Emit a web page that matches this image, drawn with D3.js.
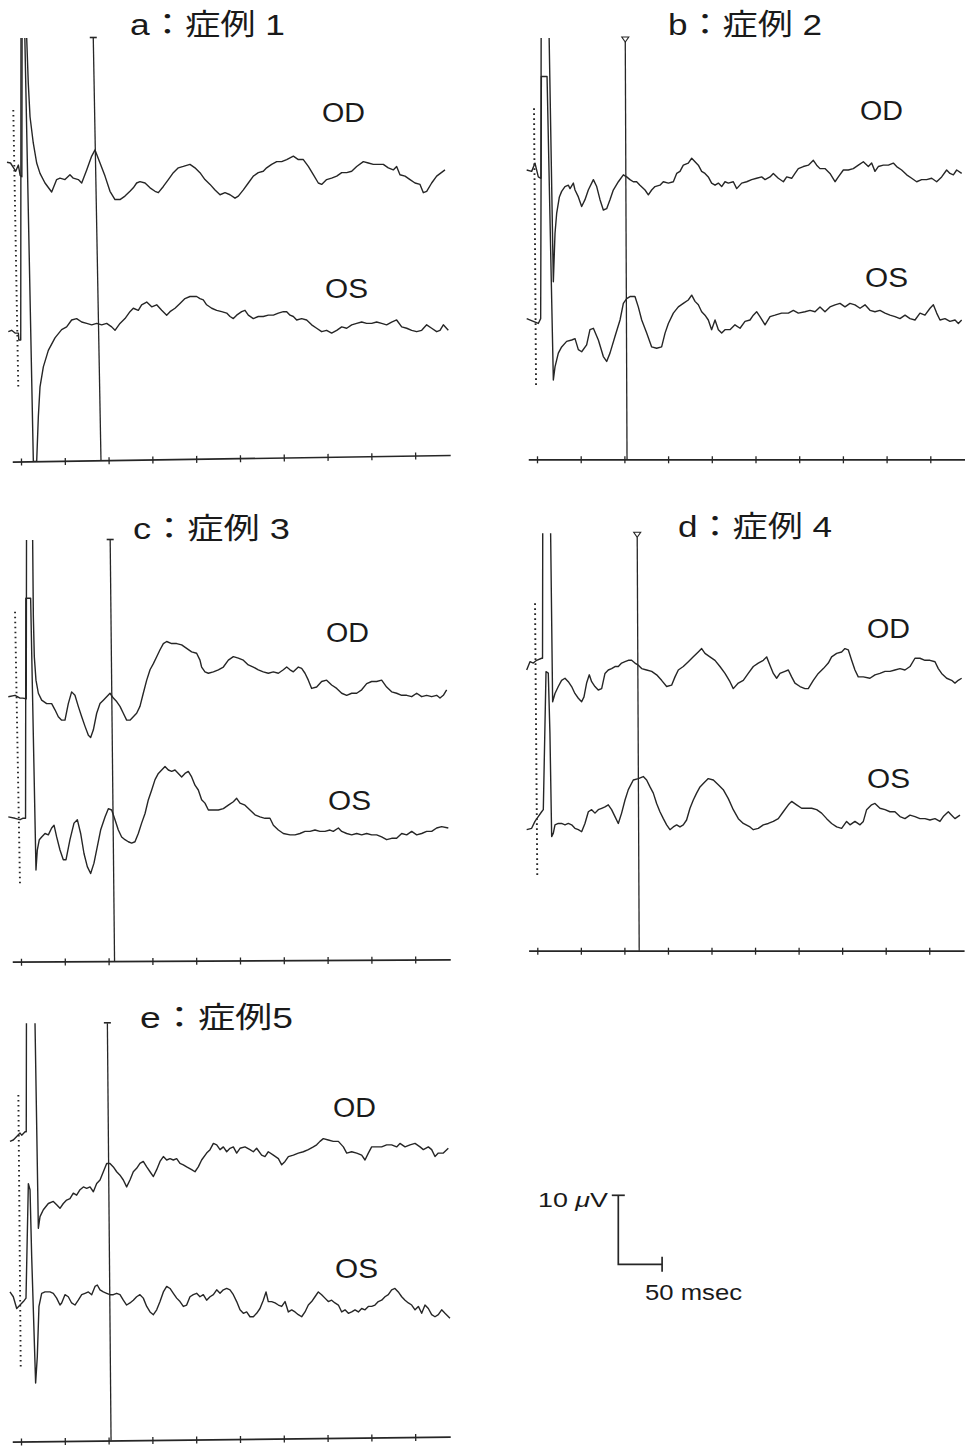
<!DOCTYPE html>
<html>
<head>
<meta charset="utf-8">
<script src="https://cdn.jsdelivr.net/npm/d3@7/dist/d3.min.js"></script>
<style>
  body { margin: 0; background: #fff; }
  svg { display: block; }
</style>
</head>
<body>
<div id="main"></div>
<script>
// ---- data: time in ms, amplitude in µV (relative to each trace's pre-stimulus level) ----
const panelIds = ["a", "b", "c", "d", "e"];
const titles = ["a：症例 1", "b：症例 2", "c：症例 3", "d：症例 4", "e：症例5"];
const eyeLabels = ["OD", "OS"];
const tickTimes = [0, 50, 100, 150, 200, 250, 300, 350, 400, 450];
const axisSpan = [-10, 490];
// cursor (P100 marker) time at top and at bottom of the line
const cursorTimes = [[82.5, 91.3], [101, 103], [101.8, 106.8], [114.7, 117], [98.6, 102.8]];
// dotted trigger line, time at top and bottom
const triggerTimes = [[-8.8, -3.1], [-3.4, -1.1], [-6.8, -1.1], [-2.6, 0], [-3, -0.3]];
const scaleBar = [10, 50]; // µV, msec

const odA = [[-16,0.1],[-12,0],[-9,-0.6],[-6,-1.2],[-3,-0.3],[-1,-1.8],[1,-2],[1.5,40],[5,40],[6.5,18.1],[8.3,11.6],[10.3,6.7],[14,2.9],[17.9,0],[21.7,-1.5],[27.4,-2.9],[35,-4.2],[40.7,-2.4],[44.5,-2.2],[50.2,-2.4],[55.9,-1.7],[59.7,-2.2],[65.4,-2.4],[69.3,-2.9],[75,-1],[80.7,1],[84.5,1.9],[90.2,0],[95.9,-1.9],[101.6,-4.1],[107.3,-5.3],[113,-5.3],[118.7,-4.8],[124.4,-4.1],[128.2,-3.6],[132,-2.9],[135.8,-2.7],[141.6,-2.9],[147.3,-3.6],[153,-4.1],[156.8,-4.3],[162.5,-3.4],[168.2,-2.4],[173.9,-1.4],[179.6,-0.7],[185.3,-0.5],[192.9,-0.2],[198.6,-0.7],[204.3,-1.4],[210,-2.4],[215.8,-3.1],[221.5,-3.9],[227.2,-4.6],[232.9,-4.3],[238.6,-4.6],[244.3,-5.1],[248.1,-4.8],[253.8,-3.9],[259.5,-2.9],[265.2,-1.9],[270.9,-1.4],[276.6,-1.2],[280.4,-0.7],[286.1,-0.2],[291.9,0.2],[297.6,0.2],[303.3,0.5],[310.9,1],[316.6,0.5],[322.3,0.5],[328,-0.5],[333.7,-1.7],[339.4,-2.9],[343.2,-3.1],[348.9,-2.4],[354.6,-2.2],[360.4,-1.9],[366.1,-1.4],[371.8,-1.4],[377.5,-1.2],[383.2,-0.5],[390.8,0.2],[396.5,0],[402.2,-0.2],[407.9,-0.2],[413.6,-0.2],[419.3,-0.7],[425,-1],[428.8,-0.5],[432.6,-1.7],[438.4,-1.9],[444.1,-2.4],[449.8,-2.9],[455.5,-3.1],[459.3,-4.3],[463.1,-4.1],[468.8,-2.9],[474.5,-1.9],[484,-1]];
const osA = [[-14.5,0],[-10.7,0.2],[-6.8,-0.2],[-3,-0.2],[-2.5,-1.2],[-0.3,-1.2],[0,45],[4,45],[14.1,-18.8],[17.9,-18.8],[19.8,-12.3],[21.7,-8],[25.5,-5.1],[31.2,-2.7],[38.8,-0.9],[46.4,0.3],[52.1,0.7],[57.8,1.7],[63.5,1.9],[69.3,1.4],[75,1.2],[80.7,1],[86.4,1.2],[92.1,1],[97.8,1.2],[103.5,0.7],[107.3,0.2],[113,1.2],[118.7,1.9],[124.4,2.9],[128.2,3.4],[133.9,3.1],[137.7,3.9],[143.5,4.3],[149.2,3.6],[154.9,3.9],[160.6,3.1],[166.3,2.4],[170.1,2.9],[175.8,3.4],[181.5,4.1],[187.2,4.8],[192.9,5.1],[200.5,5.1],[204.3,4.8],[208.1,4.6],[211.9,3.9],[217.7,3.4],[223.4,3.1],[229.1,2.9],[234.8,2.7],[238.6,2.2],[242.4,1.9],[246.2,2.4],[251.9,2.9],[255.7,3.1],[259.5,2.4],[265.2,1.9],[270.9,2.2],[276.6,2.2],[282.3,2.4],[288.1,2.4],[293.8,2.7],[299.5,2.9],[303.3,2.9],[307.1,2.4],[310.9,2.2],[314.7,1.7],[320.4,1.9],[326.1,1.7],[331.8,1],[337.5,0.5],[343.2,0],[348.9,0.2],[354.6,-0.2],[360.4,0.2],[366.1,0.7],[371.8,0.5],[377.5,1],[383.2,1.2],[388.9,1.4],[394.6,1.2],[400.3,1.2],[406,1.4],[411.7,1.2],[417.4,1],[423.1,1.4],[428.8,1.7],[434.6,0.7],[440.3,0.5],[446,0.2],[451.7,0],[457.4,0.2],[463.1,1],[468.8,0.5],[474.5,0],[478.3,0.2],[482.1,1],[487.8,0.2]];

const odB = [[-11.8,0],[-6.1,-0.2],[-2.3,1],[1.5,-1],[4.5,-1.2],[5,40],[12,40],[13.5,22],[18.7,-16.2],[20.6,-9.2],[22.5,-6.3],[25.6,-3.9],[28.2,-3.1],[32,-2.4],[35.9,-2.2],[37.8,-2.7],[41.6,-1.9],[43.5,-2.9],[47.3,-3.9],[51.1,-5.3],[54.9,-4.3],[58.7,-2.9],[64.5,-1.4],[68.3,-2.4],[72.1,-4.3],[75.9,-5.8],[79.7,-5.6],[83.5,-4.3],[87.3,-2.9],[93.1,-1.7],[98.8,-0.7],[102.6,-1],[106.4,-1.4],[110.2,-1.7],[114,-1.7],[117.8,-2.2],[123.6,-2.9],[127.4,-3.6],[131.2,-2.9],[135,-2.4],[140.7,-2.2],[144.5,-1.7],[150.3,-1.9],[156,-1.7],[159.8,-0.5],[163.6,-0.2],[167.4,0.7],[173.1,1],[177,1.7],[180.8,1.2],[184.6,0.7],[188.4,-0.2],[192.2,-0.5],[196,-1],[199.8,-1.9],[203.7,-2.2],[207.5,-1.9],[211.3,-2.4],[215.1,-1.7],[218.9,-1.9],[224.6,-1.7],[228.5,-2.7],[234.2,-1.9],[239.9,-1.7],[245.6,-1.4],[251.3,-1.2],[257.1,-1],[260.9,-1.4],[266.6,-1],[270.4,-0.5],[276.1,-1.2],[281.9,-1.7],[285.7,-1],[291.4,-1.2],[295.2,-0.5],[299,0.2],[304.7,0.5],[310.5,0.7],[316.2,1.4],[320,0.7],[323.8,0.2],[329.5,0.2],[335.2,-0.5],[341,-1.7],[344.8,-1],[350.5,0],[356.2,0],[361.9,0.2],[367.7,0.7],[373.4,1.2],[379.1,0.5],[382.9,1],[386.7,-0.2],[390.5,0.5],[396.3,0.7],[402,0.7],[407.7,1],[411.5,0.5],[417.2,0],[423,-0.7],[428.7,-1.2],[434.4,-1.7],[440.1,-1.4],[445.8,-1.4],[451.6,-1.2],[457.3,-1.7],[463,-1],[468.7,0],[472.5,-0.5],[476.4,-0.7],[480.2,0],[485.9,-0.5]];
const osB = [[-11.8,0.2],[-4.2,-0.2],[1.5,-0.5],[4.2,0.2],[5,35.3],[11.5,35.3],[18.7,-8.7],[20.6,-6.8],[24.4,-4.8],[28.2,-3.9],[33.9,-3.1],[39.7,-2.9],[43.5,-2.7],[47.3,-4.3],[51.1,-4.6],[56.8,-3.6],[60.6,-1.4],[64.5,-1.2],[70.2,-2.9],[75.9,-5.3],[79.7,-6],[83.5,-4.8],[89.2,-2.4],[95,0],[98.8,2.4],[102.6,3.1],[106.4,3.4],[112.1,3.4],[115.9,1.9],[119.8,0],[125.5,-1.9],[131.2,-3.9],[136.9,-4.1],[142.6,-3.9],[146.5,-1.9],[150.3,-0.5],[156,1],[161.7,1.9],[167.4,2.4],[173.1,2.9],[177,3.6],[180.8,2.7],[184.6,2.2],[188.4,1.2],[192.2,0.7],[196,0],[199.8,-1.4],[203.7,0],[207.5,-1.4],[211.3,-1.9],[215.1,-1.4],[220.8,-1.4],[226.5,-0.7],[232.3,-1.2],[238,-0.2],[243.7,0],[247.5,0.7],[251.3,1.2],[255.1,0.5],[260.9,-0.7],[266.6,0.5],[272.3,0.7],[279.9,1],[287.6,1],[293.3,1.4],[299,1],[306.6,1.2],[312.4,1.4],[318.1,1.2],[323.8,1.9],[329.5,1.2],[335.2,1.9],[341,2.2],[346.7,2.4],[352.4,1.9],[358.1,2.4],[363.8,2.2],[369.6,1.7],[375.3,2.2],[381,1.4],[386.7,1.2],[392.4,1.4],[398.2,1],[403.9,0.7],[409.6,0.5],[415.3,0.2],[421.1,0.7],[426.8,0.2],[432.5,0],[438.2,1],[443.9,0.7],[449.7,1.7],[453.5,2.2],[457.3,1],[461.1,0],[466.8,0.2],[472.5,-0.2],[478.3,0],[482.1,-0.5],[485.9,0]];

const odC = [[-14.5,0],[-6.8,0.2],[-1.1,-0.2],[1.9,-0.2],[6,-0.3],[6.5,40],[12.5,40],[13.3,22.7],[14.1,11.6],[15.2,5.8],[17.1,2.4],[19.8,0.5],[23.6,-0.5],[29.3,-1],[35,-1],[38.8,-1.9],[42.6,-2.9],[46.4,-3.4],[50.2,-3.4],[54,-1],[57.8,0.7],[61.6,0.2],[65.4,-1.4],[69.3,-2.9],[73.1,-4.3],[76.9,-5.6],[79.5,-5.9],[82.6,-4.8],[86.4,-2.4],[90.2,-1],[94,-0.5],[97.8,0],[101.6,0.5],[105.4,-0.2],[109.2,-0.7],[113,-1.4],[116.8,-2.4],[120.6,-3.4],[124.4,-3.4],[128.2,-2.9],[132,-2.4],[135.8,-1.4],[139.6,0.5],[143.5,2.4],[147.3,3.9],[151.1,4.8],[154.9,5.8],[158.7,6.8],[162.5,7.7],[166.3,8],[172,7.7],[177.7,7.7],[183.4,7.5],[189.1,7],[194.8,6.5],[200.5,6.3],[204.3,5.3],[206.2,4.3],[210,3.6],[213.9,3.4],[219.6,3.6],[225.3,3.9],[231,4.3],[236.7,5.3],[242.4,5.8],[248.1,5.6],[253.8,5.3],[259.5,4.6],[265.2,4.3],[270.9,3.9],[276.6,3.6],[282.3,3.4],[288.1,3.6],[293.8,3.4],[299.5,3.9],[303.3,4.3],[307.1,3.9],[310.9,3.6],[316.6,4.3],[320.4,4.1],[324.2,3.4],[328,2.4],[331.8,1.2],[337.5,1.4],[343.2,2.2],[348.9,2.4],[354.6,1.7],[360.4,1.2],[366.1,0.5],[371.8,0.2],[377.5,0.5],[383.2,0.5],[388.9,1],[394.6,1.9],[400.3,2.2],[406,2.2],[411.7,2.4],[417.4,1.4],[423.1,0.7],[428.8,0.5],[434.6,0.2],[440.3,0.2],[446,0],[451.7,0.5],[457.4,0],[463.1,0.2],[468.8,0],[474.5,0.2],[478.3,-0.2],[482.1,0.2],[485.9,1]];
const osC = [[-14.5,0.2],[-6.8,0],[-1.1,-0.2],[1.9,0],[5.2,0],[5.5,31.9],[11,31.9],[17.1,-7.5],[18.6,-4.6],[20.9,-3.1],[23.6,-2.7],[27.4,-2.2],[31.2,-2.4],[35,-1.4],[37.7,-1],[40.7,-2.7],[44.5,-4.6],[48.3,-6],[51.4,-6],[55.9,-3.1],[60.5,-0.7],[64.3,-0.2],[68.1,-2.2],[71.9,-5.1],[75.7,-7],[79.5,-8],[83.3,-6.5],[87.1,-4.1],[90.9,-1.7],[95.9,0.2],[99.7,1.4],[103.5,1.2],[107.3,-0.2],[111.1,-1.7],[114.9,-2.7],[118.7,-3.1],[122.5,-3.4],[126.3,-3.6],[130.1,-3.4],[133.9,-2.2],[137.7,-0.7],[141.6,0.7],[145.4,2.7],[149.2,4.1],[153,5.6],[156.8,6.5],[160.6,7],[164.4,7.5],[168.2,7],[172,6.8],[175.8,7],[179.6,6.5],[183.4,6],[187.2,6.5],[191,6.8],[194.8,6],[198.6,4.8],[202.4,4.1],[206.2,2.7],[210,2.2],[213.9,1.2],[219.6,1.2],[225.3,1.2],[231,1.4],[236.7,1.9],[242.4,2.4],[246.2,2.9],[250,2.2],[255.7,1.9],[261.4,1.2],[267.1,0.5],[272.8,0.2],[278.5,0],[284.2,0],[288.1,-1],[293.8,-1.7],[299.5,-2.2],[307.1,-2.4],[312.8,-2.4],[318.5,-2.2],[324.2,-1.9],[329.9,-1.9],[335.6,-1.7],[341.3,-1.9],[347,-1.9],[352.7,-1.7],[356.5,-1.9],[362.3,-1.4],[366.1,-1.9],[371.8,-2.2],[377.5,-2.4],[383.2,-2.2],[388.9,-2.4],[394.6,-2.2],[400.3,-2.4],[406,-2.4],[411.7,-2.7],[417.4,-3.1],[423.1,-2.9],[428.8,-2.9],[434.6,-2.2],[440.3,-2.4],[446,-1.9],[451.7,-2.4],[457.4,-2.2],[463.1,-1.9],[468.8,-1.9],[474.5,-1.4],[480.2,-1.2],[487.8,-1.4]];

const odD = [[-12.2,-1.2],[-8.4,0],[-4.6,-0.2],[-0.8,0.2],[5,0.5],[6,0.5],[6.5,40],[14,40],[15.3,18.6],[17.6,-5.8],[20.3,-4.6],[24.1,-3.6],[27.9,-2.7],[31.8,-2.4],[35.6,-2.9],[39.4,-3.6],[43.2,-4.6],[47.1,-5.3],[50.9,-5.8],[53.6,-5.1],[56.6,-3.1],[59.7,-1.9],[62.4,-2.9],[66.2,-3.6],[70,-4.1],[73.9,-3.9],[77.7,-1.7],[81.5,-1.2],[85.3,-1],[89.2,-0.7],[93,-0.7],[96.8,-0.2],[100.7,0],[104.5,0.2],[108.3,0.2],[112.1,-0.2],[116,-0.5],[119.8,-1],[125.5,-1.2],[131.3,-1.4],[137,-1.9],[142.7,-2.7],[148.5,-3.6],[154.2,-3.4],[158.1,-2.2],[161.9,-1.2],[167.6,-0.7],[173.4,0],[179.1,0.7],[184.8,1.4],[188.7,1.9],[192.5,1.2],[198.2,0.7],[204,0.2],[209.7,-0.7],[215.5,-1.7],[221.2,-2.9],[225,-3.9],[230.8,-3.1],[236.5,-2.7],[242.2,-1.7],[248,-0.7],[253.7,-0.2],[259.5,0.2],[263.3,0.7],[267.1,-0.5],[271,-1.7],[274.8,-2.4],[278.6,-1.7],[284.3,-1.4],[288.2,-1.2],[292,-2.2],[295.8,-3.1],[301.6,-3.6],[307.3,-3.9],[311.1,-3.9],[316.9,-2.7],[322.6,-1.7],[328.4,-1],[334.1,-0.2],[337.9,0.7],[343.7,1.2],[349.4,1.4],[353.2,1.9],[357.1,1.7],[360.9,0.2],[364.7,-1.2],[368.5,-2.2],[374.3,-2.2],[381.9,-2.4],[387.7,-1.9],[393.4,-1.7],[399.2,-1.4],[404.9,-1.4],[410.6,-1.2],[416.4,-1],[422.1,-1.2],[427.9,-0.7],[433.6,0.5],[439.3,0.5],[445.1,0.2],[450.8,0.2],[456.6,0],[460.4,-1],[464.2,-1.7],[470,-2.4],[475.7,-2.7],[479.5,-3.1],[483.3,-2.7],[487.2,-2.4]];
const osD = [[-12.2,-0.2],[-6.5,0],[-2.7,1],[1.1,1.7],[5,2.4],[6.9,2.7],[10,22.7],[12.6,22.5],[14.5,13.8],[16.5,-1.2],[18.4,-0.7],[20.3,0.5],[24.1,0.7],[27.9,0.7],[31.8,0.5],[35.6,0.7],[39.4,0.5],[43.2,0],[47.1,-0.2],[50.9,-0.5],[54.7,0.7],[58.6,2.4],[62.4,2.7],[66.2,2.2],[70,2.7],[73.9,2.9],[77.7,3.1],[81.5,3.4],[85.3,2.7],[89.2,1.7],[93,0.7],[96.8,2.2],[100.7,4.1],[104.5,5.6],[110.2,7],[116,7.2],[121.7,7.5],[125.5,7],[129.4,6],[133.2,5.1],[137,3.6],[140.8,2.4],[144.7,1.4],[148.5,0.5],[152.3,-0.2],[156.1,0.2],[160,0.5],[163.8,0.2],[167.6,0.5],[171.4,1.2],[175.3,2.9],[179.1,4.1],[182.9,5.1],[186.8,6],[190.6,6.5],[196.3,7.2],[202.1,7],[207.8,6.3],[213.5,5.6],[219.3,4.3],[225,2.7],[230.8,1.4],[236.5,0.7],[244.2,0.2],[248,-0.2],[253.7,0],[259.5,0.5],[265.2,0.7],[271,1],[276.7,1.4],[282.4,2.4],[288.2,3.4],[292,3.9],[297.7,3.4],[303.5,2.9],[309.2,2.9],[315,2.9],[320.7,2.7],[326.4,2.2],[332.2,1.4],[337.9,0.7],[343.7,0.2],[349.4,0],[355.1,1],[359,0.5],[364.7,1],[370.5,0.5],[374.3,1],[378.1,2.7],[383.8,3.4],[387.7,3.6],[393.4,2.9],[399.2,2.7],[404.9,2.4],[410.6,2.4],[416.4,1.7],[422.1,1.4],[427.9,1.9],[433.6,1.7],[439.3,1.4],[445.1,1.4],[450.8,1.2],[456.6,1.4],[462.3,1],[466.1,1.7],[471.9,2.4],[475.7,1.9],[479.5,1.4],[485.3,1.9]];

const odE = [[-12.6,-0.2],[-8.8,0],[-4.9,0.5],[-1.1,1],[0.8,0.7],[4.6,1.2],[6,1.2],[6.5,40],[14,40],[16,16.9],[19.8,-12.8],[21.7,-11.1],[25.5,-10.1],[31.2,-9.2],[36.9,-8.9],[40.7,-9.4],[44.5,-9.9],[48.3,-9.2],[52.1,-8.7],[55.9,-8.5],[59.7,-7.7],[63.5,-8],[67.4,-7.2],[71.2,-6.8],[75,-7],[78.8,-6.8],[82.6,-7.5],[86.4,-6.3],[90.2,-5.8],[94,-4.6],[97.8,-3.4],[101.6,-3.4],[105.4,-3.9],[109.2,-4.6],[113,-5.1],[116.8,-5.8],[120.6,-6.8],[124.4,-5.8],[128.2,-4.6],[132,-4.1],[135.8,-3.4],[139.6,-3.1],[143.5,-3.9],[147.3,-4.6],[151.1,-5.3],[154.9,-4.3],[158.7,-3.1],[162.5,-2.4],[166.3,-2.9],[170.1,-2.7],[173.9,-2.9],[177.7,-2.7],[181.5,-3.4],[185.3,-3.6],[189.1,-3.9],[194.8,-4.3],[198.6,-4.6],[202.4,-3.9],[206.2,-2.9],[211.9,-1.9],[215.8,-1.4],[219.6,-0.5],[223.4,-0.7],[227.2,-1.4],[231,-1],[234.8,-1.7],[238.6,-1.2],[242.4,-1],[246.2,-1.9],[250,-1.2],[255.7,-1],[261.4,-1.4],[265.2,-1.7],[269,-1.2],[274.7,-2.2],[278.5,-2.4],[282.3,-1.7],[288.1,-2.2],[293.8,-2.7],[297.6,-3.6],[301.4,-3.1],[305.2,-2.4],[310.9,-2.2],[316.6,-1.9],[322.3,-1.7],[328,-1.4],[333.7,-1],[337.5,-0.7],[341.3,-0.2],[345.1,0.2],[350.8,0],[356.5,-0.2],[362.3,-0.2],[368,-1],[371.8,-1.9],[377.5,-1.7],[383.2,-1.9],[388.9,-2.2],[392.7,-2.9],[396.5,-1.9],[400.3,-1],[406,-1],[411.7,-1],[417.4,-0.7],[423.1,-0.7],[428.8,-1],[432.6,-0.5],[438.4,-1],[444.1,-0.7],[449.8,-0.5],[455.5,-1],[459.3,-1.4],[465,-1],[468.8,-1.4],[472.6,-2.4],[476.4,-1.9],[482.1,-1.9],[487.8,-1.2]];
const osE = [[-12.6,0.2],[-8.8,-0.5],[-4.9,-2.2],[-1.1,-1.7],[2.7,-1.2],[5.7,-0.7],[8.4,15.9],[10.3,15],[12.2,5.3],[16.7,-13],[18.6,-9.2],[20.5,-1.9],[23.6,0],[27.4,0.2],[33.1,0.2],[36.9,0],[40.7,-0.7],[44.5,-1.7],[46.4,-1.4],[50.2,-0.2],[54,-0.5],[57.8,-1.4],[61.6,-1.7],[65.4,-1],[69.3,-0.2],[73.1,0],[76.9,0.2],[80.7,-0.2],[84.5,1],[87.1,1.2],[90.2,0.5],[94,0.2],[97.8,0],[101.6,-0.2],[105.4,-0.2],[109.2,0],[113,-0.2],[116.8,-1],[120.6,-1.7],[124.4,-1.4],[128.2,-1],[132,-0.5],[135.8,-0.2],[139.6,-0.7],[143.5,-1.9],[147.3,-2.7],[151.1,-3.1],[154.9,-2.4],[158.7,-1.2],[162.5,0.2],[166.3,1],[170.1,0.7],[173.9,0],[177.7,-0.7],[181.5,-1.2],[185.3,-1.9],[189.1,-1.7],[192.9,-0.5],[196.7,-0.2],[200.5,0],[204.3,-0.5],[208.1,-0.2],[211.9,-1],[215.8,-0.5],[219.6,-0.2],[223.4,0.5],[227.2,0],[231,0.5],[234.8,0.7],[238.6,0.5],[242.4,-0.2],[246.2,-1.2],[250,-2.4],[253.8,-2.9],[257.6,-2.7],[261.4,-3.4],[265.2,-3.4],[269,-2.9],[272.8,-2.2],[276.6,-1],[279.7,0.2],[282.3,-1.2],[286.1,-1.2],[290,-1.4],[293.8,-1.7],[297.6,-1.9],[301.4,-1.2],[305.2,-2.7],[309,-2.4],[312.8,-2.7],[316.6,-3.1],[320.4,-3.4],[324.2,-2.7],[328,-1.7],[331.8,-1.2],[335.6,-0.5],[339.4,0.2],[343.2,-0.2],[347,-0.7],[350.8,-1.2],[354.6,-1],[358.4,-1.4],[362.3,-1.7],[366.1,-2.7],[369.9,-2.4],[373.7,-2.9],[377.5,-2.7],[381.3,-2.4],[385.1,-2.7],[388.9,-2.2],[392.7,-2.4],[396.5,-1.9],[400.3,-1.9],[404.1,-1.7],[407.9,-1.2],[411.7,-1],[415.5,-0.5],[419.3,-0.2],[423.1,0.5],[426.9,0.7],[430.7,0.2],[434.6,-0.5],[438.4,-1],[442.2,-1.4],[446,-1.7],[449.8,-2.4],[453.6,-1.9],[457.4,-2.9],[461.2,-1.7],[465,-2.2],[468.8,-3.1],[472.6,-3.4],[476.4,-3.1],[480.2,-2.4],[484,-2.9],[489.7,-3.6]];

const traceData = [[odA, osA], [odB, osB], [odC, osC], [odD, osD], [odE, osE]];

// ---- layout (pixels) ----
const ctx = {
    w: 965,
    h: 1447,
    UV_PX: 6.9,      // px per µV
    ink: "#262626",
    TRACE_W: 1.4,
    font: "'Liberation Sans', Arial, 'Noto Sans CJK JP', sans-serif",
};

const layout = [
    {x0: 21,    k: 0.876, od: 163,    os: 331.7,  top: 38,     axis: [461.7, 455],    dot: [110, 387],     mark: "bar", title: [130, 35, 155],  odLab: [322, 122],  osLab: [325, 298]},
    {x0: 537,   k: 0.874, od: 170,    os: 320,    top: 38,     axis: [459.3, 459.3],  dot: [108.3, 385],   mark: "tri", title: [668, 35, 154],  odLab: [860, 120],  osLab: [865, 287]},
    {x0: 21,    k: 0.876, od: 696.7,  os: 818.3,  top: 540,    axis: [961.7, 959.3],  dot: [611.7, 886.7], mark: "bar", title: [133, 539, 157], odLab: [326, 642],  osLab: [328, 810]},
    {x0: 537.3, k: 0.871, od: 661.7,  os: 828.3,  top: 533.3,  axis: [950.7, 950.7],  dot: [603.3, 878.3], mark: "tri", title: [678, 537, 154], odLab: [867, 638],  osLab: [867, 788]},
    {x0: 21,    k: 0.876, od: 1140,   os: 1293.3, top: 1023.3, axis: [1441.7, 1436.7],dot: [1095, 1368.3], mark: "bar", title: [140, 1028, 153],odLab: [333, 1117], osLab: [335, 1278]},
];

const svg = d3.select("#main").append("svg")
    .attr("width", ctx.w)
    .attr("height", ctx.h)
    .style("background", "#fff");

function drawPanel(p, i) {
    const g = svg.append("g").attr("id", "panel-" + panelIds[i]);
    const x = d3.scaleLinear().domain(axisSpan).range(axisSpan.map(t => p.x0 + t * p.k));
    const xl = x(axisSpan[0]), xr = x(axisSpan[1]);

    // clip so the stimulus artefact is cut at the top of the record
    const clipId = "clip-" + panelIds[i];
    svg.append("clipPath").attr("id", clipId).append("rect")
        .attr("x", xl - 20).attr("y", p.top)
        .attr("width", xr - xl + 40).attr("height", p.axis[0] + 10 - p.top);

    // time axis with crossing ticks
    const tilt = Math.atan2(p.axis[1] - p.axis[0], xr - xl) * 180 / Math.PI;
    const ax = g.append("g")
        .attr("transform", `rotate(${tilt},${xl},${p.axis[0]}) translate(0,${p.axis[0]})`)
        .call(d3.axisBottom(x).tickValues(tickTimes).tickSizeInner(4).tickSizeOuter(0).tickFormat(""));
    ax.select(".domain").attr("stroke", ctx.ink).attr("stroke-width", 1.7);
    ax.selectAll(".tick line").attr("y1", -3).attr("stroke", ctx.ink).attr("stroke-width", 1.3);

    // dotted trigger line
    const tt = triggerTimes[i];
    g.append("line")
        .attr("x1", x(tt[0])).attr("y1", p.dot[0])
        .attr("x2", x(tt[1])).attr("y2", p.dot[1])
        .attr("stroke", ctx.ink).attr("stroke-width", 1.9)
        .attr("stroke-dasharray", "1.6,3.4");

    // cursor line
    const ct = cursorTimes[i];
    const cx0 = x(ct[0]), cx1 = x(ct[1]);
    const yb = p.axis[0] + (p.axis[1] - p.axis[0]) * (cx1 - xl) / (xr - xl);
    g.append("line")
        .attr("x1", cx0).attr("y1", p.top + (p.mark === "tri" ? 4 : 0))
        .attr("x2", cx1).attr("y2", yb)
        .attr("stroke", ctx.ink).attr("stroke-width", 1.3);
    if (p.mark === "tri") {
        g.append("path")
            .attr("d", `M${cx0 - 3.5},${p.top - 1}L${cx0 + 3.5},${p.top - 1}L${cx0},${p.top + 4}Z`)
            .attr("fill", "#fff").attr("stroke", ctx.ink).attr("stroke-width", 1.1);
    } else {
        g.append("line")
            .attr("x1", cx0 - 3.5).attr("x2", cx0 + 3.5)
            .attr("y1", p.top - 0.5).attr("y2", p.top - 0.5)
            .attr("stroke", ctx.ink).attr("stroke-width", 1.6);
    }

    // traces OD / OS
    [p.od, p.os].forEach((base, j) => {
        const y = d3.scaleLinear().domain([0, 10]).range([base, base - 10 * ctx.UV_PX]);
        const line = d3.line().x(d => x(d[0])).y(d => y(d[1]));
        g.append("path")
            .datum(traceData[i][j])
            .attr("d", line)
            .attr("clip-path", `url(#${clipId})`)
            .attr("fill", "none")
            .attr("stroke", ctx.ink)
            .attr("stroke-width", ctx.TRACE_W)
            .attr("stroke-linejoin", "round");
    });

    // eye labels
    [p.odLab, p.osLab].forEach((pos, j) => {
        g.append("text")
            .attr("x", pos[0]).attr("y", pos[1])
            .attr("textLength", 43).attr("lengthAdjust", "spacingAndGlyphs")
            .attr("font-family", ctx.font).attr("font-size", 27)
            .attr("fill", "#1a1a1a")
            .text(eyeLabels[j]);
    });

    // panel title
    g.append("text")
        .attr("x", p.title[0]).attr("y", p.title[1])
        .attr("textLength", p.title[2]).attr("lengthAdjust", "spacingAndGlyphs")
        .attr("font-family", ctx.font).attr("font-size", 29)
        .attr("fill", "#1a1a1a")
        .text(titles[i]);
}

function drawScaleBar() {
    const g = svg.append("g").attr("id", "scalebar");
    const origin = [618.3, 1264.3];
    const sx = d3.scaleLinear().domain([0, scaleBar[1]]).range([origin[0], origin[0] + scaleBar[1] * 0.876]);
    const sy = d3.scaleLinear().domain([0, scaleBar[0]]).range([origin[1], origin[1] - scaleBar[0] * ctx.UV_PX]);
    g.append("path")
        .attr("d", `M${sx(0)},${sy(scaleBar[0])}V${sy(0)}H${sx(scaleBar[1])}`)
        .attr("fill", "none").attr("stroke", ctx.ink).attr("stroke-width", 1.7);
    g.append("line")
        .attr("x1", sx(0) - 6.5).attr("x2", sx(0) + 6.5)
        .attr("y1", sy(scaleBar[0])).attr("y2", sy(scaleBar[0]))
        .attr("stroke", ctx.ink).attr("stroke-width", 1.7);
    g.append("line")
        .attr("x1", sx(scaleBar[1])).attr("x2", sx(scaleBar[1]))
        .attr("y1", sy(0) - 7.5).attr("y2", sy(0) + 7.5)
        .attr("stroke", ctx.ink).attr("stroke-width", 1.7);

    const t1 = g.append("text")
        .attr("x", 538).attr("y", 1207)
        .attr("textLength", 70).attr("lengthAdjust", "spacingAndGlyphs")
        .attr("font-family", ctx.font).attr("font-size", 21).attr("fill", "#1a1a1a");
    t1.append("tspan").text(scaleBar[0] + " ");
    t1.append("tspan").attr("font-style", "italic").text("μ");
    t1.append("tspan").text("V");

    g.append("text")
        .attr("x", 645).attr("y", 1300)
        .attr("textLength", 97).attr("lengthAdjust", "spacingAndGlyphs")
        .attr("font-family", ctx.font).attr("font-size", 22).attr("fill", "#1a1a1a")
        .text(scaleBar[1] + " msec");
}

layout.forEach((p, i) => drawPanel(p, i));
drawScaleBar();
</script>
</body>
</html>
